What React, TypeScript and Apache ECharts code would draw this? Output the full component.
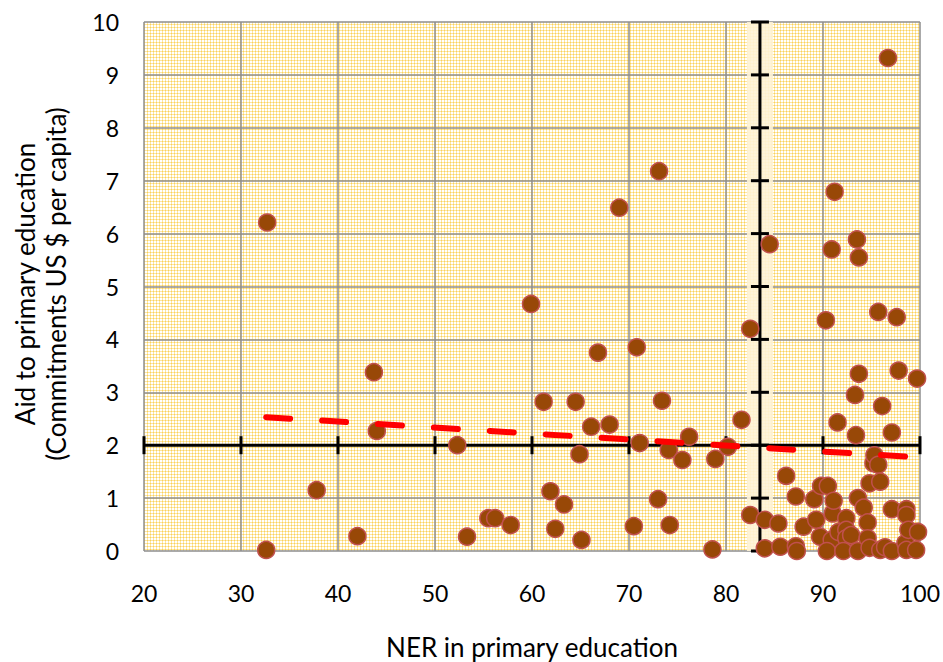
import React, { useEffect, useRef } from "react";
import * as echarts from "echarts";

// NER in primary education (x) and aid per capita (y)
const nerValues = [
  32.7, 32.6, 37.8, 42.0, 43.7, 44.0, 52.3, 53.3, 55.5, 56.2, 57.8, 59.9, 61.2, 61.9, 62.4, 63.3, 64.5,
  64.9, 65.1, 66.1, 66.8, 68.0, 69.0, 70.5, 70.8, 71.1, 73.0, 73.1, 73.4, 74.1, 74.2, 75.5, 76.2,
  78.6, 78.9, 80.2, 81.6, 82.5, 82.5, 84.5, 84.0, 85.4, 84.0, 85.6, 87.2, 87.3, 86.2, 87.2, 88.0,
  89.1, 89.3, 89.7, 89.8, 90.5, 90.3, 90.9, 90.9, 90.4, 91.0, 91.1, 91.2, 91.5, 91.6, 92.4, 92.4,
  92.4, 92.9, 92.1, 93.3, 93.4, 93.5, 93.6, 93.6, 93.7, 93.7, 94.2, 94.6, 94.6, 94.8, 94.8, 95.2,
  95.3, 95.7, 95.7, 95.9, 95.9, 96.1, 96.4, 96.7, 97.1, 97.1, 97.1, 97.6, 97.8, 98.5, 98.6, 98.6,
  98.6, 98.8, 99.7, 99.8, 99.6,
];
const aidValues = [
  6.21, 0.02, 1.15, 0.28, 3.38, 2.27, 2.0, 0.27, 0.62, 0.62, 0.49, 4.67, 2.82, 1.13, 0.42, 0.88, 2.82,
  1.83, 0.21, 2.35, 3.75, 2.39, 6.49, 0.47, 3.85, 2.04, 0.98, 7.18, 2.84, 1.91, 0.49, 1.72, 2.16,
  0.03, 1.74, 1.97, 2.48, 4.2, 0.68, 5.8, 0.59, 0.52, 0.05, 0.08, 0.09, 0.0, 1.42, 1.03, 0.46,
  0.98, 0.59, 0.27, 1.23, 1.23, 4.36, 5.7, 0.21, 0.0, 0.71, 0.95, 6.79, 2.43, 0.36, 0.62, 0.4,
  0.24, 0.3, 0.0, 2.95, 2.19, 5.89, 1.0, 0.0, 5.55, 3.35, 0.82, 0.54, 0.24, 1.28, 0.06, 1.66,
  1.81, 1.63, 4.52, 1.31, 0.02, 2.74, 0.07, 9.32, 2.24, 0.79, 0.0, 4.42, 3.41, 0.15, 0.79, 0.68,
  0.02, 0.4, 3.26, 0.36, 0.02,
];

// Linear trend line end points
const trendX = [32.6, 99.8];
const trendY = [2.53, 1.77];

// Axis ticks
const xTicks = [20, 30, 40, 50, 60, 70, 80, 90, 100];
const yTicks = [0, 1, 2, 3, 4, 5, 6, 7, 8, 9, 10];

// Position where the crossing axes meet
const crossX = 83.5;
const crossY = 2;

const xTitle = "NER in primary education";
const yTitle = "Aid to primary education\n(Commitments US $ per capita)";

export default function App() {
  const ref = useRef<HTMLDivElement>(null);

  useEffect(() => {
    if (!ref.current) return;
    const chart = echarts.init(ref.current, null, { renderer: "svg" });

    const canvas = document.createElement("canvas");
    canvas.width = 3;
    canvas.height = 3;
    const ctx = canvas.getContext("2d");
    if (ctx) {
      ctx.fillStyle = "#ffffff";
      ctx.fillRect(0, 0, 3, 3);
      ctx.fillStyle = "#FDE6A0";
      ctx.fillRect(0, 0, 3, 1);
      ctx.fillRect(0, 0, 1, 3);
      ctx.fillStyle = "#FAD05C";
      ctx.fillRect(0, 0, 1, 1);
    }

    const xMin = xTicks[0];
    const xMax = xTicks[xTicks.length - 1];
    const yMin = yTicks[0];
    const yMax = yTicks[yTicks.length - 1];

    const scatterData = nerValues.map((x, i) => [x, aidValues[i]]);
    const trendData = trendX.map((x, i) => [x, trendY[i]]);

    const font = "Lato, 'Open Sans', sans-serif";

    chart.setOption({
      animation: false,
      backgroundColor: "#ffffff",
      grid: {
        left: 144,
        right: 23,
        top: 22,
        bottom: 111,
        show: true,
        borderWidth: 0,
        backgroundColor: { image: canvas, repeat: "repeat" },
      },
      xAxis: {
        type: "value",
        min: xMin,
        max: xMax,
        interval: 10,
        axisLine: { show: false },
        axisTick: { show: false },
        axisLabel: { color: "#000", fontFamily: font, fontSize: 23, margin: 30 },
        splitLine: { show: true, lineStyle: { color: "#8E8E8E", width: 1.5 } },
      },
      yAxis: {
        type: "value",
        min: yMin,
        max: yMax,
        interval: 1,
        axisLine: { show: false },
        axisTick: { show: false },
        axisLabel: { color: "#000", fontFamily: font, fontSize: 23, margin: 25 },
        splitLine: { show: true, lineStyle: { color: "#8E8E8E", width: 1.5 } },
      },
      graphic: [
        {
          type: "text",
          x: 532,
          y: 647,
          style: {
            text: xTitle,
            fill: "#000",
            font: `26px ${font}`,
            align: "center",
            verticalAlign: "middle",
          },
        },
        {
          type: "text",
          x: 40,
          y: 284,
          rotation: Math.PI / 2,
          style: {
            text: yTitle,
            fill: "#000",
            font: `26px ${font}`,
            align: "center",
            verticalAlign: "middle",
            lineHeight: 31,
          },
        },
      ],
      series: [
        {
          type: "custom",
          silent: true,
          z: 1,
          clip: false,
          data: [[crossX, crossY]],
          renderItem: (params: any, api: any) => {
            const cx = api.value(0);
            const cy = api.value(1);
            const top = api.coord([cx, yMax]);
            const bottom = api.coord([cx, yMin]);
            const left = api.coord([xMin, cy]);
            const right = api.coord([xMax, cy]);
            const children: any[] = [];
            children.push({
              type: "line",
              shape: { x1: top[0], y1: top[1], x2: bottom[0], y2: bottom[1] },
              style: { stroke: "#FEF3D6", lineWidth: 26, opacity: 0.9 },
            });
            children.push({
              type: "line",
              shape: { x1: left[0], y1: left[1], x2: right[0], y2: right[1] },
              style: { stroke: "#000", lineWidth: 3 },
            });
            children.push({
              type: "line",
              shape: { x1: top[0], y1: top[1], x2: bottom[0], y2: bottom[1] },
              style: { stroke: "#000", lineWidth: 3 },
            });
            yTicks.forEach((v) => {
              const p = api.coord([cx, v]);
              children.push({
                type: "line",
                shape: { x1: p[0] - 9, y1: p[1], x2: p[0] + 9, y2: p[1] },
                style: { stroke: "#000", lineWidth: 3 },
              });
            });
            xTicks.forEach((v) => {
              const p = api.coord([v, cy]);
              children.push({
                type: "line",
                shape: { x1: p[0], y1: p[1] - 9, x2: p[0], y2: p[1] + 9 },
                style: { stroke: "#000", lineWidth: 3 },
              });
            });
            return { type: "group", children };
          },
        },
        {
          type: "scatter",
          z: 2,
          symbol: "circle",
          symbolSize: 17,
          data: scatterData,
          itemStyle: { color: "#984807", borderColor: "#C0504D", borderWidth: 1.5, opacity: 1 },
        },
        {
          type: "line",
          z: 3,
          data: trendData,
          symbol: "none",
          lineStyle: { color: "#FF0000", width: 6, type: [24, 32], cap: "round" },
        },
      ],
    });

    return () => chart.dispose();
  }, []);

  return (
    <div
      ref={ref}
      style={{ position: "fixed", left: 0, top: 0, width: 943, height: 662 }}
    />
  );
}
